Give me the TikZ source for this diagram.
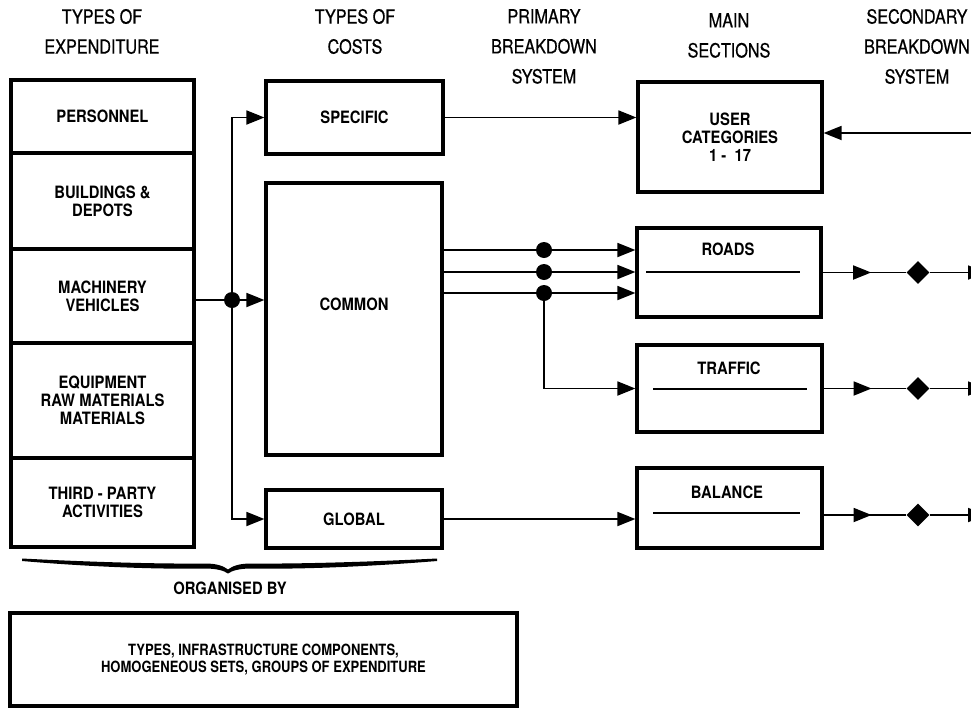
\documentclass[tikz,border=0pt]{standalone}
\usepackage{fontspec}
\setmainfont{TeX Gyre Heros}
\newfontfamily\headfont[FakeStretch=0.83,FakeBold=0.6]{TeX Gyre Heros}
\newfontfamily\labelfont[FakeStretch=0.87]{TeX Gyre Heros}
\newfontfamily\notefont[FakeStretch=0.84]{TeX Gyre Heros}
\usetikzlibrary{arrows.meta,shapes.geometric,decorations.markings}

\begin{document}
\begin{tikzpicture}[x=1pt,y=-1pt,
  box/.style={draw,line width=3.2pt,inner sep=0pt,align=center,
    font=\labelfont\bfseries\fontsize{17}{18}\selectfont},
  heading/.style={align=center,font=\headfont\fontsize{19.5}{30}\selectfont},
  txt/.style={align=center,font=\labelfont\bfseries\fontsize{17}{18}\selectfont},
  conn/.style={line width=1.8pt},
  rule/.style={line width=1.6pt},
  arrowto/.style={-{Triangle[length=18pt,width=14pt]}},
  midarrow/.style={postaction={decorate},decoration={markings,
    mark=at position #1 with {\arrow{Triangle[length=18pt,width=14pt]}}}},
  dot/.style={circle,fill,inner sep=0pt,minimum size=16pt},
  diam/.style={diamond,fill,inner sep=0pt,minimum width=23pt,minimum height=23pt}]

\clip (0,0) rectangle (971,707);

% column headings
\node[heading] (h1) at (102,31.5) {TYPES OF\\EXPENDITURE};
\node[heading] (h2) at (355,31.5) {TYPES OF\\COSTS};
\node[heading] (h3) at (544,46.5) {PRIMARY\\BREAKDOWN\\SYSTEM};
\node[heading] (h4) at (729,35.5) {MAIN\\SECTIONS};
\node[heading] (h5) at (917,46.5) {SECONDARY\\BREAKDOWN\\SYSTEM};

% types of expenditure
\node[box,minimum width=183pt,minimum height=73pt]  (pers)  at (102.5,116.5) {PERSONNEL};
\node[box,minimum width=183pt,minimum height=96pt]  (build) at (102.5,201)   {BUILDINGS \&\\DEPOTS};
\node[box,minimum width=183pt,minimum height=94pt]  (mach)  at (102.5,296)   {MACHINERY\\VEHICLES};
\node[box,minimum width=183pt,minimum height=115pt] (equip) at (102.5,400.5) {EQUIPMENT\\RAW MATERIALS\\MATERIALS};
\node[box,minimum width=183pt,minimum height=89pt]  (third) at (102.5,502.5) {THIRD - PARTY\\ACTIVITIES};

% types of costs
\node[box,minimum width=177pt,minimum height=73pt]  (specific) at (354.5,117.5) {SPECIFIC};
\node[box,minimum width=176pt,minimum height=272pt] (common)   at (354,319) {};
\node[txt] (commonlbl) at (354,304) {COMMON};
\node[box,minimum width=176pt,minimum height=58pt]  (global)   at (354,519) {GLOBAL};

% main sections
\node[box,minimum width=184pt,minimum height=110pt] (user)    at (730,137) {USER\\CATEGORIES\\1 -\ \ 17};
\node[box,minimum width=184pt,minimum height=89pt]  (roads)   at (729,272.5) {};
\node[box,minimum width=185pt,minimum height=87pt]  (traffic) at (729.5,388.5) {};
\node[box,minimum width=185pt,minimum height=80pt]  (balance) at (729.5,508) {};
\node[txt] (roadslbl)   at (728,249) {ROADS};
\node[txt] (trafficlbl) at (729,368) {TRAFFIC};
\node[txt] (balancelbl) at (727,492) {BALANCE};
\draw[rule] (646,272) -- (800,272);
\draw[rule] (653,389) -- (807,389);
\draw[rule] (653,513) -- (800,513);

% distribution from the expenditure column
\node[dot] (d0) at (232,300) {};
\draw[conn] (mach.east |- d0) -- (d0);
\draw[conn,arrowto] (d0) -- (common.west |- d0);
\draw[conn,arrowto] (d0) |- (specific.west);
\draw[conn,arrowto] (d0) |- (global.west);

% primary breakdown
\node[dot] (d1) at (544,250) {};
\node[dot] (d2) at (544,272) {};
\node[dot] (d3) at (544,293) {};
\draw[conn] (common.east |- d1) -- (d1);
\draw[conn] (common.east |- d2) -- (d2);
\draw[conn] (common.east |- d3) -- (d3);
\draw[conn,arrowto] (d1) -- (roads.west |- d1);
\draw[conn,arrowto] (d2) -- (roads.west |- d2);
\draw[conn,arrowto] (d3) -- (roads.west |- d3);
\draw[conn,arrowto] (d3) |- (traffic.west);
\draw[conn,arrowto] (specific.east) -- (user.west |- specific.east);
\draw[conn,arrowto] (global.east) -- (balance.west |- global.east);

% secondary breakdown
\coordinate (i0) at (985,133);
\draw[conn,arrowto] (i0) -- (user.east |- i0);
\node[diam] (q1) at (918,272.5) {};
\node[diam] (q2) at (918,388.5) {};
\node[diam] (q3) at (918,515) {};
\coordinate (o1) at (986,272.5);
\coordinate (o2) at (986,388.5);
\coordinate (o3) at (986,515);
\draw[conn,midarrow=0.58] (roads.east) -- (q1);
\draw[conn,midarrow=0.58] (traffic.east) -- (q2);
\draw[conn,midarrow=0.58] (balance.east |- q3) -- (q3);
\draw[conn,arrowto] (q1) -- (o1);
\draw[conn,arrowto] (q2) -- (o2);
\draw[conn,arrowto] (q3) -- (o3);

% brace and organisation box
\fill (22,558.5) .. controls (80,561.5) and (150,564) .. (205,563.5)
  .. controls (218,563.5) and (224,566.5) .. (228,569.5)
  .. controls (232,566.5) and (238,563.5) .. (251,563.5)
  .. controls (306,564) and (376,561.5) .. (437,558.5)
  -- (437,561) .. controls (376,566) and (306,569.5) .. (251,568.5)
  .. controls (240,568.5) and (232,570.5) .. (228,573.5)
  .. controls (224,570.5) and (216,568.5) .. (205,568.5)
  .. controls (150,569.5) and (80,566) .. (22,561) -- cycle;
\node[txt] (orgby) at (230,588) {ORGANISED BY};
\node[box,minimum width=507pt,minimum height=93pt,
  font=\notefont\bfseries\fontsize{15.5}{17}\selectfont] (orgbox) at (263.5,659.5)
  {TYPES, INFRASTRUCTURE COMPONENTS,\\HOMOGENEOUS SETS, GROUPS OF EXPENDITURE};
\end{tikzpicture}
\end{document}
